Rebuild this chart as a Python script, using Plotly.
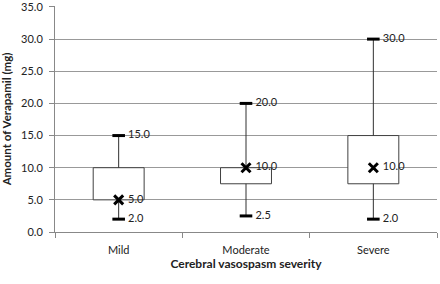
import plotly.graph_objects as go

categories = ["Mild", "Moderate", "Severe"]
minimum = [2.0, 2.5, 2.0]
q1 = [5.0, 7.5, 7.5]
median = [5.0, 10.0, 10.0]
q3 = [10.0, 10.0, 15.0]
maximum = [15.0, 20.0, 30.0]
y_ticks = [0, 5, 10, 15, 20, 25, 30, 35]

FONT = "Lato, Carlito, Calibri, sans-serif"
fig = go.Figure()

# boxes (Q1..Q3)
fig.add_trace(go.Bar(
    x=categories, y=[b - a for a, b in zip(q1, q3)], base=q1, width=0.4,
    marker=dict(color="white", line=dict(color="#404040", width=1)),
    hoverinfo="skip", showlegend=False))

# whiskers
for c, lo, a, b, hi in zip(categories, minimum, q1, q3, maximum):
    fig.add_trace(go.Scatter(
        x=[c, c, None, c, c], y=[b, hi, None, lo, a], mode="lines",
        line=dict(color="#303030", width=1), showlegend=False, hoverinfo="skip"))

# caps with labels
for vals in (minimum, maximum):
    fig.add_trace(go.Scatter(
        x=categories, y=vals, mode="markers+text",
        marker=dict(symbol="line-ew-open", size=9, color="black", line=dict(color="black", width=3)),
        text=["\u00a0" + f"{v:.1f}" for v in vals], textposition="middle right",
        textfont=dict(family=FONT, size=11, color="#222"),
        showlegend=False, hoverinfo="skip"))

# medians
fig.add_trace(go.Scatter(
    x=categories, y=median, mode="markers+text",
    marker=dict(symbol="x-thin-open", size=9, color="black", line=dict(color="black", width=3)),
    text=["\u00a0" + f"{v:.1f}" for v in median], textposition="middle right",
    textfont=dict(family=FONT, size=11, color="#222"),
    showlegend=False, hoverinfo="skip"))

fig.update_layout(
    width=440, height=284, margin=dict(l=55, r=3, t=6, b=52),
    paper_bgcolor="white", plot_bgcolor="white",
    font=dict(family=FONT, size=11, color="#222"),
    barmode="overlay",
    xaxis=dict(type="category", tickson="boundaries", ticks="outside", ticklen=5,
               tickcolor="#888", showline=True, linecolor="#888", showgrid=False,
               range=[-0.5, 2.5], ticklabelstandoff=8, automargin=False,
               title=dict(text="<b>Cerebral vasospasm severity</b>", font=dict(size=12), standoff=3)),
    yaxis=dict(range=[0, 35.15], tickvals=y_ticks, tickformat=".1f",
               showgrid=True, gridcolor="#999999", ticklabeloverflow="allow",
               gridwidth=1, showline=True, linecolor="#888", ticks="outside", ticklen=5,
               tickcolor="#888", zeroline=False, ticklabelstandoff=4, automargin=False,
               title=dict(text="<b>Amount of Verapamil (mg)</b>", font=dict(size=11.5), standoff=13)),
)

fig.write_html("out.html", config={"displayModeBar": False},
               post_script="document.body.style.margin='0';")
